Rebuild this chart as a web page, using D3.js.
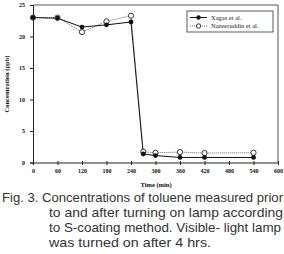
<!DOCTYPE html>
<html><head><meta charset="utf-8">
<script src="https://cdn.jsdelivr.net/npm/d3@7"></script>
<style>body{margin:0;background:#fff}svg{display:block}</style>
</head><body>
<svg id="c" width="284" height="254"></svg>
<script>
const times = [0, 60, 120, 180, 240, 270, 300, 360, 420, 540];
const xagas = [23.0, 22.9, 21.5, 21.85, 22.3, 1.35, 1.1, 0.8, 0.8, 0.8];
const nazeeruddin = [23.0, 23.0, 20.7, 22.4, 23.3, 1.7, 1.55, 1.65, 1.5, 1.55];
const xTicks = [0, 60, 120, 180, 240, 300, 360, 420, 480, 540, 600];
const yTicks = [0, 5, 10, 15, 20, 25];
const seriesNames = ["Xagas et al.", "Nazeeruddin et al."];
const captionLines = [
  "Fig. 3. Concentrations of toluene measured prior",
  "to and after turning on lamp according",
  "to S-coating method. Visible- light lamp",
  "was turned on after 4 hrs."
];

const svg = d3.select("#c");
const m = {l: 33, r: 278, t: 5, b: 162.5};
const x = d3.scaleLinear().domain([0, 600]).range([m.l, m.r]);
const y = d3.scaleLinear().domain([0, 25]).range([m.b, m.t]);
const serif = "'Liberation Serif','DejaVu Serif',serif";

svg.append("path").attr("d", `M${m.l},${m.t}H${m.r}V${m.b}`)
  .attr("fill", "none").attr("stroke", "#555").attr("stroke-width", 1);

const xAxis = svg.append("g").attr("transform", `translate(0,${m.b})`)
  .call(d3.axisBottom(x).tickValues(xTicks).tickSize(2.5).tickPadding(4));
const yAxis = svg.append("g").attr("transform", `translate(${m.l},0)`)
  .call(d3.axisLeft(y).tickValues(yTicks).tickSize(3).tickPadding(5));
[xAxis, yAxis].forEach(g => {
  g.select(".domain").attr("stroke", "#222");
  g.selectAll(".tick line").attr("stroke", "#222");
  g.selectAll("text").attr("font-family", serif).attr("font-weight", "bold")
    .attr("font-size", 6).attr("fill", "#111");
});
xAxis.selectAll(".tick line").attr("y1", -1.5);

svg.append("text").attr("x", 156).attr("y", 187).attr("text-anchor", "middle")
  .attr("font-family", serif).attr("font-weight", "bold").attr("font-size", 6.5)
  .attr("fill", "#111").text("Time (min)");
svg.append("text").attr("transform", "translate(9,84) rotate(-90)")
  .attr("text-anchor", "middle").attr("font-family", serif).attr("font-weight", "bold")
  .attr("font-size", 6.5).attr("fill", "#111").text("Concentration (ppb)");

const line = d3.line().x(d => x(d[0])).y(d => y(d[1]));
const dN = times.map((t, i) => [t, nazeeruddin[i]]);
const dX = times.map((t, i) => [t, xagas[i]]);

svg.append("path").datum(dN).attr("d", line).attr("fill", "none")
  .attr("stroke", "#444").attr("stroke-width", 0.8).attr("stroke-dasharray", "1,1");
svg.append("path").datum(dX).attr("d", line).attr("fill", "none")
  .attr("stroke", "#111").attr("stroke-width", 1);
svg.selectAll(".pn").data(dN).enter().append("circle")
  .attr("cx", d => x(d[0])).attr("cy", d => y(d[1])).attr("r", 2.6)
  .attr("fill", "#fff").attr("stroke", "#222").attr("stroke-width", 0.9);
svg.selectAll(".px").data(dX).enter().append("circle")
  .attr("cx", d => x(d[0])).attr("cy", d => y(d[1])).attr("r", 2.4)
  .attr("fill", "#111");

const lg = svg.append("g");
lg.append("rect").attr("x", 187).attr("y", 11).attr("width", 86).attr("height", 21)
  .attr("fill", "#fff").attr("stroke", "#333").attr("stroke-width", 0.8);
const ly = [17.5, 26];
lg.append("line").attr("x1", 190).attr("x2", 207).attr("y1", ly[0]).attr("y2", ly[0])
  .attr("stroke", "#111").attr("stroke-width", 1);
lg.append("circle").attr("cx", 198.5).attr("cy", ly[0]).attr("r", 2.2).attr("fill", "#111");
lg.append("line").attr("x1", 190).attr("x2", 207).attr("y1", ly[1]).attr("y2", ly[1])
  .attr("stroke", "#444").attr("stroke-width", 0.8).attr("stroke-dasharray", "1,1");
lg.append("circle").attr("cx", 198.5).attr("cy", ly[1]).attr("r", 2.2).attr("fill", "#fff")
  .attr("stroke", "#222").attr("stroke-width", 0.9);
seriesNames.forEach((n, i) => {
  lg.append("text").attr("x", 211).attr("y", ly[i] + 2).attr("font-family", serif)
    .attr("font-size", 6.5).attr("fill", "#222").text(n);
});

const capX = [2, 49, 49, 49];
const capY = [201.5, 216.5, 231.5, 246.5];
const capW = [281, 234, 232, 162];
captionLines.forEach((t, i) => {
  svg.append("text").attr("x", capX[i]).attr("y", capY[i])
    .attr("font-family", "'Liberation Sans',Arial,sans-serif").attr("font-size", 13)
    .attr("fill", "#333").attr("textLength", capW[i])
    .attr("lengthAdjust", "spacingAndGlyphs").text(t);
});
</script>
</body></html>
